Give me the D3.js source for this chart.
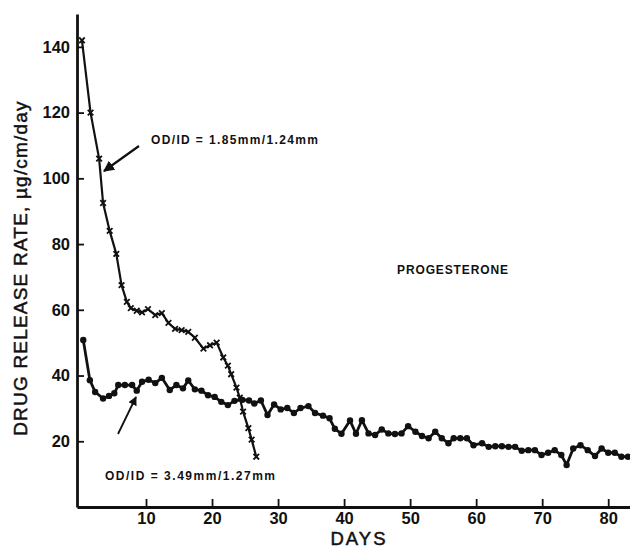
<!DOCTYPE html>
<html>
<head>
<meta charset="utf-8">
<script src="https://cdn.jsdelivr.net/npm/d3@7/dist/d3.min.js"></script>
<style>
  html, body { margin: 0; padding: 0; background: #fff; }
  svg { display: block; }
  text { font-family: "Liberation Sans", Arial, Helvetica, sans-serif; fill: #111; }
</style>
</head>
<body>
<svg id="chart" width="630" height="549"></svg>
<script>
// Thin-wall tubing: OD/ID = 1.85mm/1.24mm (crosses)
const thinDays = [0.3, 1.6, 2.9, 3.5, 4.5, 5.5, 6.3, 7.1, 7.7, 8.6, 9.4, 10.3, 11.4, 12.4, 13.4, 14.4,
  15.4, 16.4, 17.4, 18.7, 19.7, 20.7, 21.7, 22.4, 22.9, 23.7, 24.2, 24.7, 25.5, 26.0, 26.7];
const thinRate = [142, 120, 106, 92.5, 84, 77, 67.5, 62.4, 60.5, 59.7, 59.2, 60.2, 58.4, 59, 56, 54.2,
  53.8, 53.3, 51.5, 48.2, 49.2, 50, 45.5, 43, 40.4, 36.3, 33.3, 29, 24, 20.5, 15.3];

// Thick-wall tubing: OD/ID = 3.49mm/1.27mm (dots)
const thickDays = [0.5, 1.5, 2.3, 3.5, 4.4, 5.2, 5.8, 6.8, 7.9, 8.6, 9.4, 10.4, 11.4, 12.4, 13.6, 14.6,
  15.6, 16.4, 17.4, 18.4, 19.4, 20.4, 21.4, 22.4, 23.4, 24.6, 25.6, 26.4, 27.4, 28.4, 29.4, 30.4,
  31.4, 32.4, 33.4, 34.6, 35.6, 36.8, 37.8, 38.6, 39.6, 40.9, 41.8, 42.7, 43.7, 44.7, 45.7, 46.7,
  47.7, 48.7, 49.7, 50.8, 51.8, 52.8, 53.8, 54.8, 55.8, 56.6, 57.6, 58.6, 59.6, 60.9, 61.9, 62.9,
  63.9, 64.9, 65.9, 66.9, 67.9, 68.9, 69.9, 70.9, 71.9, 72.9, 73.7, 74.7, 75.8, 76.9, 78, 79, 80,
  81, 82, 83];
const thickRate = [50.8, 38.6, 35, 33, 33.8, 34.6, 37.1, 37.1, 37.1, 35.4, 38.1, 38.7, 37.7, 39.3, 35.6, 37.1,
  36.1, 38.5, 35.8, 35.4, 34, 33.5, 32, 31, 32.3, 32.6, 32.4, 31.5, 32.4, 28, 31.2, 29.7,
  30.1, 28.6, 30.1, 30.7, 28.6, 27.8, 27, 23.8, 22.3, 26.3, 22.3, 26.4, 22.4, 21.9, 23.6, 22.4,
  22.2, 22.4, 24.6, 22.9, 21.6, 20.9, 22.9, 20.9, 19.4, 20.9, 20.9, 20.9, 18.8, 19.4, 18.3, 18.5,
  18.5, 18.3, 18.3, 17.1, 17.3, 17.3, 15.8, 16.5, 17.3, 15.8, 12.8, 17.8, 18.8, 17.3, 15.5, 17.8, 16.5,
  16.5, 15.3, 15.3];

const xTicks = [10, 20, 30, 40, 50, 60, 70, 80];
const yTicks = [20, 40, 60, 80, 100, 120, 140];

const svg = d3.select("#chart");

const x = d3.scaleLinear().domain([-0.45, 83.3]).range([77, 630]);
const y = d3.scaleLinear().domain([0, 150]).range([507, 14]);

const thin = thinDays.map((d, i) => [d, thinRate[i]]);
const thick = thickDays.map((d, i) => [d, thickRate[i]]);

// Axes: ticks point into the plot, heavy frame lines
const yAxis = d3.axisLeft(y).tickValues(yTicks).tickSize(-7).tickPadding(14).tickSizeOuter(0);
const xAxis = d3.axisBottom(x).tickValues(xTicks).tickSize(-8).tickPadding(5).tickSizeOuter(0);

const gy = svg.append("g").attr("transform", "translate(77,0)").call(yAxis);
const gx = svg.append("g").attr("transform", "translate(0,507)").call(xAxis);

[gx, gy].forEach(g => {
  g.select(".domain").attr("stroke", "#111").attr("stroke-width", 2.8);
  g.selectAll(".tick line").attr("stroke", "#111").attr("stroke-width", 1.8);
  g.selectAll(".tick text")
    .attr("font-size", 16.5)
    .attr("font-weight", "bold")
    .attr("fill", "#111")
    .attr("font-family", "'Liberation Sans', Arial, sans-serif");
});
gy.selectAll(".tick text").attr("dx", 7);

// Axis titles
svg.append("text")
  .attr("transform", "translate(27,268) rotate(-90)")
  .attr("text-anchor", "middle")
  .attr("font-size", 19)
  .attr("letter-spacing", 1.2)
  .attr("stroke", "#111").attr("stroke-width", 0.5)
  .text("DRUG RELEASE RATE, µg/cm/day");

svg.append("text")
  .attr("x", 359).attr("y", 545)
  .attr("text-anchor", "middle")
  .attr("font-size", 18.5)
  .attr("letter-spacing", 2)
  .attr("stroke", "#111").attr("stroke-width", 0.5)
  .text("DAYS");

const line = d3.line().x(d => x(d[0])).y(d => y(d[1]));

// Thin-wall series
svg.append("path").datum(thin)
  .attr("d", line)
  .attr("fill", "none").attr("stroke", "#111").attr("stroke-width", 2.2)
  .attr("stroke-linejoin", "round");
svg.append("g").selectAll("path").data(thin).join("path")
  .attr("transform", d => `translate(${x(d[0])},${y(d[1])})`)
  .attr("d", d3.symbol(d3.symbolTimes, 22))
  .attr("fill", "none").attr("stroke", "#111").attr("stroke-width", 1.8);

// Thick-wall series
svg.append("path").datum(thick)
  .attr("d", line)
  .attr("fill", "none").attr("stroke", "#111").attr("stroke-width", 2.8)
  .attr("stroke-linejoin", "round");
svg.append("g").selectAll("circle").data(thick).join("circle")
  .attr("cx", d => x(d[0])).attr("cy", d => y(d[1]))
  .attr("r", 3.2).attr("fill", "#111");

// Labels and arrows
svg.append("text")
  .attr("x", 151).attr("y", 144)
  .attr("font-size", 12).attr("font-weight", "bold")
  .attr("textLength", 167).attr("lengthAdjust", "spacing")
  .text("OD/ID = 1.85mm/1.24mm");

svg.append("text")
  .attr("x", 105).attr("y", 480)
  .attr("font-size", 12).attr("font-weight", "bold")
  .attr("textLength", 170).attr("lengthAdjust", "spacing")
  .text("OD/ID = 3.49mm/1.27mm");

svg.append("text")
  .attr("x", 397).attr("y", 274)
  .attr("font-size", 12).attr("font-weight", "bold")
  .attr("textLength", 111).attr("lengthAdjust", "spacing")
  .text("PROGESTERONE");

const defs = svg.append("defs");
defs.append("marker")
  .attr("id", "head").attr("viewBox", "0 0 10 10")
  .attr("refX", 9).attr("refY", 5)
  .attr("markerWidth", 5).attr("markerHeight", 5)
  .attr("orient", "auto")
  .append("path").attr("d", "M0,0 L10,5 L0,10 Z").attr("fill", "#111");

svg.append("line")
  .attr("x1", 139).attr("y1", 146).attr("x2", 104).attr("y2", 171)
  .attr("stroke", "#111").attr("stroke-width", 2.2)
  .attr("marker-end", "url(#head)");

svg.append("line")
  .attr("x1", 118).attr("y1", 434).attr("x2", 136).attr("y2", 397)
  .attr("stroke", "#111").attr("stroke-width", 1.8)
  .attr("marker-end", "url(#head)");
</script>
</body>
</html>
